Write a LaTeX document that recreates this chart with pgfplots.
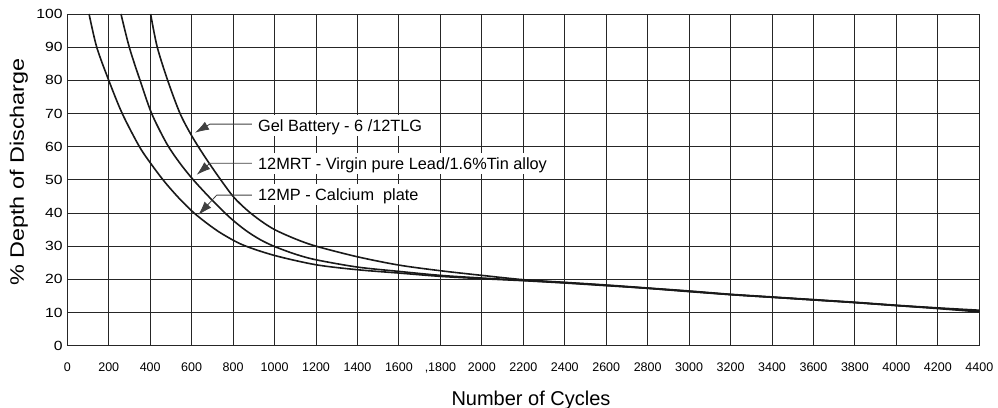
\documentclass[border=0pt]{standalone}
\usepackage{fontspec}
\setmainfont{Liberation Sans}
\usepackage{pgfplots}
\pgfplotsset{compat=1.18}
\usetikzlibrary{arrows.meta}

\begin{document}
\begin{tikzpicture}
\useasboundingbox (0,0) rectangle (998bp,408bp);
\begin{axis}[
  at={(67.3bp,62.3bp)}, anchor=south west,
  scale only axis, width=912bp, height=331.7bp,
  xmin=0, xmax=4400, ymin=0, ymax=100,
  xtick={0,200,...,4400},
  xticklabels={0,200,400,600,800,1000,1200,1400,1600,{,1800},2000,2200,2400,2600,2800,3000,3200,3400,3600,3800,4000,4200,4400},
  ytick={0,10,...,100},
  grid=major,
  major grid style={black!85, line width=0.9bp},
  axis line style={black!85, line width=0.9bp},
  major tick length=0pt,
  tick label style={/pgf/number format/assume math mode=true},
  xticklabel style={font=\fontsize{12.5bp}{14bp}\selectfont, anchor=north, inner sep=0pt, yshift=-17bp},
  yticklabel style={font=\fontsize{13.3bp}{14bp}\selectfont, anchor=east, inner sep=0pt, xshift=-4.5bp, xscale=1.18},
  xlabel={Number of Cycles},
  ylabel={\% Depth of Discharge},
  xlabel style={font=\fontsize{20bp}{22bp}\selectfont, at={(axis description cs:0.5084,-0.1788)}, anchor=base},
  ylabel style={font=\fontsize{19.5bp}{22bp}\selectfont, at={(axis description cs:-0.0475,0.5237)}, anchor=base, xscale=1.2},
  clip=true,
]
% 12MP - Calcium plate
\addplot[black!90, line width=1.6bp, smooth, tension=0.5] coordinates {
 (105,100) (142,90) (200,80) (265,70) (348,60) (410,54.3) (471,49.3) (540,44.4) (608,40.2)
 (680,36.6) (750,33.6) (850,30.3) (1000,27.2) (1200,24.4) (1400,22.9) (1600,21.9)
 (1800,20.9) (2000,20.2) (2200,19.6)
 (2400,18.9) (2600,18.1) (2800,17.3) (3000,16.3) (3200,15.4) (3400,14.6) (3600,13.8)
 (3800,13.0) (4000,12.1) (4200,11.2) (4400,10.2)
};
% 12MRT
\addplot[black!90, line width=1.6bp, smooth, tension=0.5] coordinates {
 (259,100) (299,90) (351,80) (407,70) (479,61) (540,55.3) (608,50) (700,43.8)
 (785,38.6) (860,34.8) (930,32.0) (1000,29.9) (1100,27.6) (1200,25.9) (1400,23.7) (1600,22.4)
 (1800,21.2) (2000,20.4) (2200,19.7)
 (2400,19.0) (2600,18.2) (2800,17.3) (3000,16.4) (3200,15.4) (3400,14.6) (3600,13.8)
 (3800,13.0) (4000,12.1) (4200,11.3) (4400,10.4)
};
% Gel
\addplot[black!90, line width=1.6bp, smooth, tension=0.5] coordinates {
 (402,100) (434,90) (487,79.5) (544,70) (600,63.3) (660,57.3) (729,51) (800,45.0)
 (865,41.0) (930,37.8) (1000,35.0) (1100,32.2) (1200,30.0) (1400,26.8) (1600,24.3)
 (1800,22.6) (2000,21.2) (2200,19.9)
 (2400,19.1) (2600,18.3) (2800,17.4) (3000,16.5) (3200,15.5) (3400,14.7) (3600,13.9)
 (3800,13.1) (4000,12.2) (4200,11.4) (4400,10.7)
};
% annotations
\tikzset{lab/.style={fill=white, anchor=base west, inner xsep=6bp, inner ysep=0pt,
  text height=17bp, text depth=4bp, font=\fontsize{16.3bp}{18bp}\selectfont},
  arr/.style={black!75, line width=0.8bp, -{Latex[length=14bp,width=9bp]}}}
\node[lab] at (axis cs:891,64.5) {Gel Battery - 6 /12TLG};
\node[lab] at (axis cs:891,53.0) {12MRT - Virgin pure Lead/1.6\%Tin alloy};
\node[lab] at (axis cs:891,43.7) {12MP - Calcium~ plate};
\draw[arr] (axis cs:891,66.8) -- (axis cs:688,66.8) -- (axis cs:616,64.2);
\draw[arr] (axis cs:891,55.0) -- (axis cs:688,55.0) -- (axis cs:624,51.5);
\draw[arr] (axis cs:891,45.4) -- (axis cs:721,45.4) -- (axis cs:632,39.4);
\end{axis}
\end{tikzpicture}
\end{document}
